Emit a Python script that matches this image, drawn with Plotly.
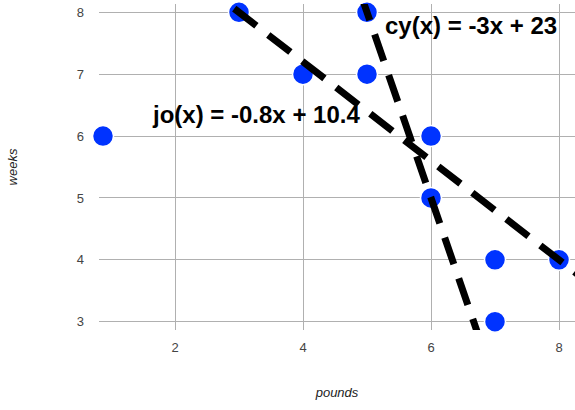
import plotly.graph_objects as go

# observed points
pounds = [0.875, 3, 4, 5, 5, 6, 6, 7, 7, 8]
weeks = [6, 8, 7, 8, 7, 6, 5, 4, 3, 4]

# trend lines (endpoints)
jo_x = [0.8, 8.4]
jo_y = [9.76, 3.68]
cy_x = [4.9, 6.8]
cy_y = [8.3, 2.6]

jo_label = "jo(x) = -0.8x + 10.4"
cy_label = "cy(x) = -3x + 23"

x_ticks = [2, 4, 6, 8]
y_ticks = [3, 4, 5, 6, 7, 8]

font_family = "Arial, Liberation Sans, sans-serif"
dash_style = dict(color="black", width=7, dash="28px,15px")

fig = go.Figure()

fig.add_trace(go.Scatter(
    x=pounds, y=weeks,
    mode="markers",
    marker=dict(size=21, color="#0033ff", line=dict(color="white", width=1.5)),
    cliponaxis=False,
    hoverinfo="x+y"))

fig.add_trace(go.Scatter(x=jo_x, y=jo_y, mode="lines", line=dash_style, hoverinfo="none"))
fig.add_trace(go.Scatter(x=cy_x, y=cy_y, mode="lines", line=dash_style, hoverinfo="none"))

fig.add_annotation(x=1.61, y=6.35, xanchor="left", yanchor="middle", text="<b>" + jo_label + "</b>",
                   showarrow=False, font=dict(size=24, color="black", family=font_family))
fig.add_annotation(x=5.25, y=7.78, xanchor="left", yanchor="middle", text="<b>" + cy_label + "</b>",
                   showarrow=False, font=dict(size=24, color="black", family=font_family))

fig.update_layout(
    width=575, height=410,
    margin=dict(l=99, r=0, t=4, b=80),
    paper_bgcolor="white", plot_bgcolor="white",
    showlegend=False,
    font=dict(family=font_family, size=13, color="#444"),
    xaxis=dict(
        range=[0.8125, 8.25], tickvals=x_ticks,
        showgrid=True, gridcolor="#b0b0b0", gridwidth=1,
        zeroline=False, showline=False, ticks="",
        ticklabelstandoff=8,
        title=dict(text="<i>pounds</i>", font=dict(size=13, color="#222"), standoff=33)),
    yaxis=dict(
        range=[2.866, 8.134], tickvals=y_ticks,
        showgrid=True, gridcolor="#b0b0b0", gridwidth=1,
        zeroline=False, showline=False, ticks="",
        ticklabelstandoff=14,
        title=dict(text="<i>weeks</i>", font=dict(size=13, color="#222"), standoff=56)),
)

# drop the default 8px page margin so the figure sits at the window corner
fig.write_html("out.html", config={"displayModeBar": False},
               post_script="document.body.style.margin = '0';")
